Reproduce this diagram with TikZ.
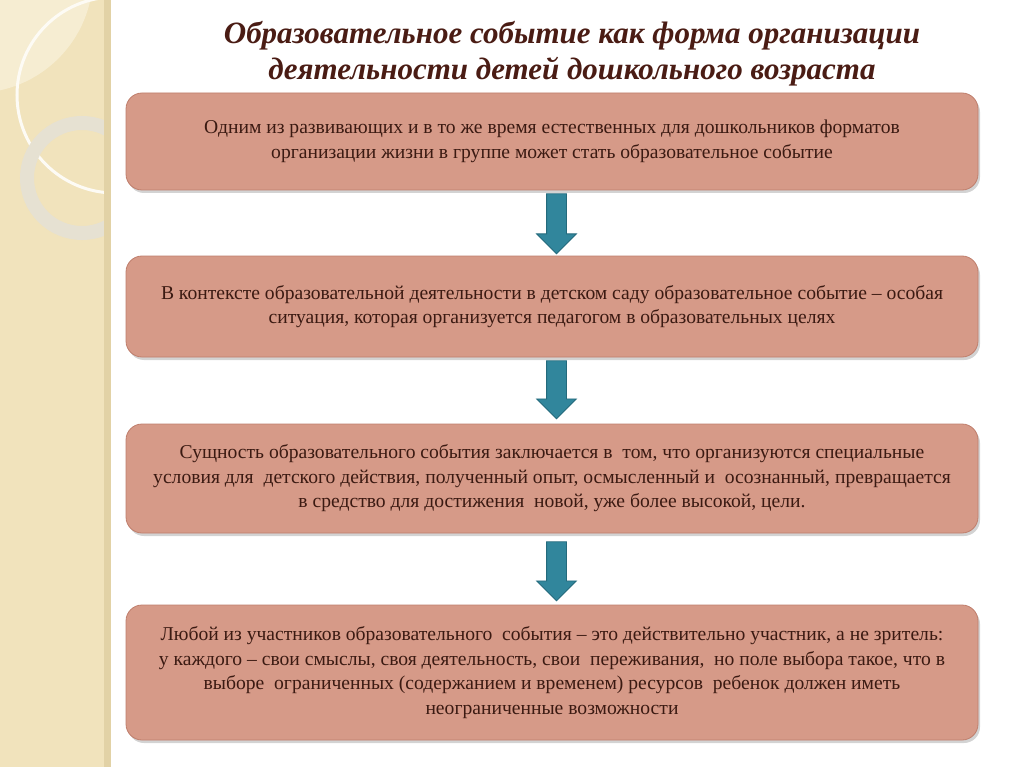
\documentclass[tikz,border=0pt]{standalone}
\usepackage{fontspec}
\setmainfont{Liberation Serif}
\usepackage{tikz}
\usetikzlibrary{positioning, shapes.arrows, shadows, calc}

\definecolor{bandbeige}{HTML}{F1E3BC}
\definecolor{bandedge}{HTML}{E2D2A6}
\definecolor{bandlight}{HTML}{F6EDD2}
\definecolor{ringgray}{HTML}{E6E1D2}
\definecolor{boxfill}{HTML}{D69A88}
\definecolor{boxline}{HTML}{BF7E6C}
\definecolor{textbrown}{HTML}{3B1A12}
\definecolor{titlebrown}{HTML}{4A1C14}
\definecolor{arrowteal}{HTML}{31869C}
\definecolor{arrowline}{HTML}{246A7C}

\begin{document}
\begin{tikzpicture}[
    x=1pt, y=-1pt,
    stepbox/.style={draw=boxline, line width=0.8pt, fill=boxfill, rounded corners=16pt,
        minimum width=852pt, align=center, text=textbrown,
        font=\fontsize{19.6}{24.5}\selectfont,
        drop shadow={shadow xshift=2pt, shadow yshift=-3pt, opacity=0.35}},
    downarrow/.style={single arrow, draw=arrowline, line width=0.8pt, fill=arrowteal,
        shape border rotate=270, minimum width=39pt, single arrow head extend=10pt,
        single arrow head indent=0pt, inner sep=9.5pt}
]
    \useasboundingbox (0,0) rectangle (1024,767);

    % Left decorative band
    \fill[bandbeige] (0,0) rectangle (110,767);
    \begin{scope}
        \clip (0,0) rectangle (110,767);
        \fill[bandlight] (-25,-25) circle (118);
        \draw[white!85!bandbeige, line width=3pt] (115,95) circle (98);
        \draw[ringgray, line width=14pt] (82,178) circle (55);
    \end{scope}
    \fill[bandedge] (104,0) rectangle (111,767);

    % Title
    \node[text=titlebrown, align=center, font=\fontsize{31}{36}\selectfont\bfseries\itshape]
        (title) at (572,54) {Образовательное событие как форма организации\\
        деятельности детей дошкольного возраста};

    % Boxes
    \node[stepbox, minimum height=97pt] (box1) at (552,141.5) {%
        Одним из развивающих и в то же время естественных для дошкольников форматов\\
        организации жизни в группе может стать образовательное событие};
    \node[stepbox, minimum height=101pt] (box2) at (552,306.5) {%
        В контексте образовательной деятельности в детском саду образовательное событие – особая\\
        ситуация, которая организуется педагогом в образовательных целях};
    \node[stepbox, minimum height=109pt] (box3) at (552,478.5) {%
        Сущность образовательного события заключается в\ \ том, что организуются специальные\\
        условия для\ \ детского действия, полученный опыт, осмысленный и\ \ осознанный, превращается\\
        в средство для достижения\ \ новой, уже более высокой, цели.};
    \node[stepbox, minimum height=135pt] (box4) at (552,672.5) {%
        Любой из участников образовательного\ \ события – это действительно участник, а не зритель:\\
        у каждого – свои смыслы, своя деятельность, свои\ \ переживания,\ \ но поле выбора такое, что в\\
        выборе\ \ ограниченных (содержанием и временем) ресурсов\ \ ребенок должен иметь\\
        неограниченные возможности};

    % Arrows between boxes
    \node[downarrow, minimum height=60pt, below=3pt of box1.south, xshift=4.5pt, anchor=tail] (arr1) {};
    \node[downarrow, minimum height=58pt, below=3pt of box2.south, xshift=4.5pt, anchor=tail] (arr2) {};
    \node[downarrow, minimum height=59pt, below=8pt of box3.south, xshift=4.5pt, anchor=tail] (arr3) {};
\end{tikzpicture}
\end{document}
